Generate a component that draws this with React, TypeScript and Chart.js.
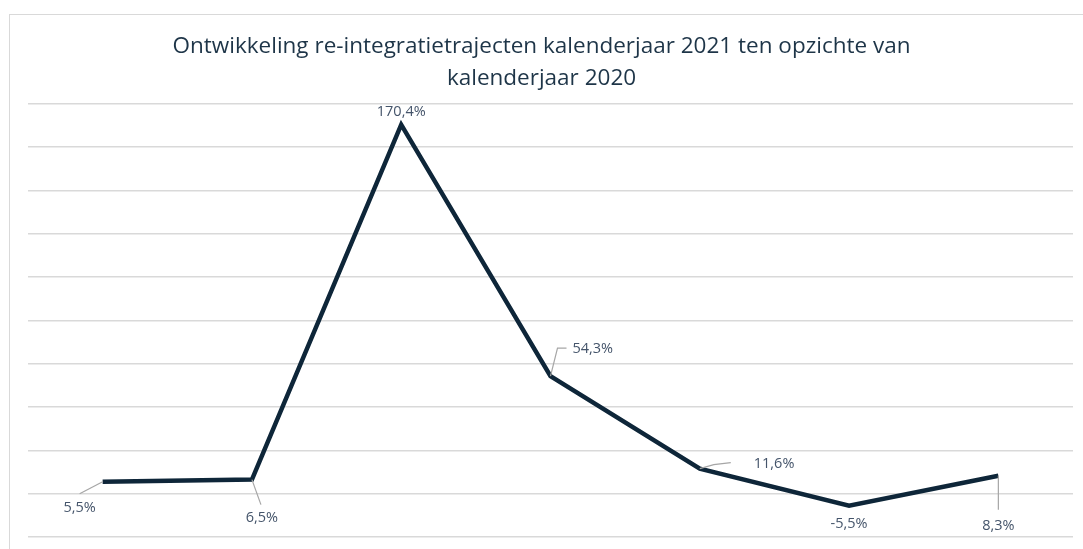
import React, { useEffect, useRef } from "react";
import { Chart, registerables } from "chart.js";

Chart.register(...registerables);

const categories = ["1", "2", "3", "4", "5", "6", "7"];
const values = [5.5, 6.5, 170.4, 54.3, 11.6, -5.5, 8.3];
const valueLabels = ["5,5%", "6,5%", "170,4%", "54,3%", "11,6%", "-5,5%", "8,3%"];
const titleLines = [
  "Ontwikkeling re-integratietrajecten kalenderjaar 2021 ten opzichte van",
  "kalenderjaar 2020",
];

// label placement relative to each point: leader path, text anchor, alignment
const labelPlacement = [
  { leader: [[-23, 12]], text: [-23, 26], align: "center" },
  { leader: [[9, 25]], text: [10, 38], align: "center" },
  { leader: [], text: [0, -13], align: "center" },
  { leader: [[7, -28], [16, -28]], text: [22, -27], align: "left" },
  { leader: [[14, -4], [31, -6]], text: [54, -5], align: "left" },
  { leader: [], text: [0, 18], align: "center" },
  { leader: [[0, 34]], text: [0, 50], align: "center" },
];

const labelPlugin = {
  id: "pointLabels",
  afterDatasetsDraw(chart: any) {
    const ctx = chart.ctx;
    const meta = chart.getDatasetMeta(0);
    ctx.save();
    meta.data.forEach((pt: any, i: number) => {
      const p = labelPlacement[i];
      const x = pt.x;
      const y = pt.y;
      if (p.leader.length) {
        ctx.beginPath();
        ctx.strokeStyle = "#a6a6a6";
        ctx.lineWidth = 1.2;
        ctx.moveTo(x, y);
        p.leader.forEach((q: number[]) => ctx.lineTo(x + q[0], y + q[1]));
        ctx.stroke();
      }
      ctx.fillStyle = "#44546a";
      ctx.font = '14.5px "Open Sans"';
      ctx.textAlign = p.align;
      ctx.textBaseline = "middle";
      ctx.fillText(valueLabels[i], x + p.text[0], y + p.text[1]);
    });
    ctx.restore();
  },
};

export default function App() {
  const ref = useRef<HTMLCanvasElement>(null);
  useEffect(() => {
    if (!ref.current) return;
    const chart = new Chart(ref.current, {
      type: "line",
      data: {
        labels: categories,
        datasets: [
          {
            data: values,
            borderColor: "#0e2639",
            borderWidth: 4.5,
            pointRadius: 0,
            tension: 0,
            fill: false,
          },
        ],
      },
      options: {
        animation: false,
        responsive: false,
        layout: { padding: { left: 10, right: 10, top: 0, bottom: 12 } },
        plugins: {
          legend: { display: false },
          tooltip: { enabled: false },
          title: {
            display: true,
            text: titleLines,
            color: "#1e3548",
            font: { family: '"Open Sans"', size: 22.5, weight: "normal", lineHeight: 1.42 },
            padding: { top: 31, bottom: 9 },
          },
        },
        scales: {
          x: {
            display: false,
            offset: true,
          },
          y: {
            min: -20,
            max: 180,
            ticks: { display: false, stepSize: 20 },
            border: { display: false },
            grid: { color: "#d9d9d9", lineWidth: 1.5, drawTicks: false },
            afterFit: (scale: any) => {
              scale.width = 18;
            },
          },
        },
      },
      plugins: [labelPlugin],
    });
    return () => chart.destroy();
  }, []);
  return (
    <div style={{ position: "fixed", left: 0, top: 0, width: 1083, height: 549, background: "#fff", overflow: "hidden" }}>
      <div
        style={{
          position: "absolute",
          left: 9,
          top: 14,
          width: 1200,
          height: 700,
          border: "1.5px solid #d9d9d9",
        }}
      />
      <canvas ref={ref} width={1083} height={549} style={{ position: "absolute", left: 0, top: 0 }} />
    </div>
  );
}
